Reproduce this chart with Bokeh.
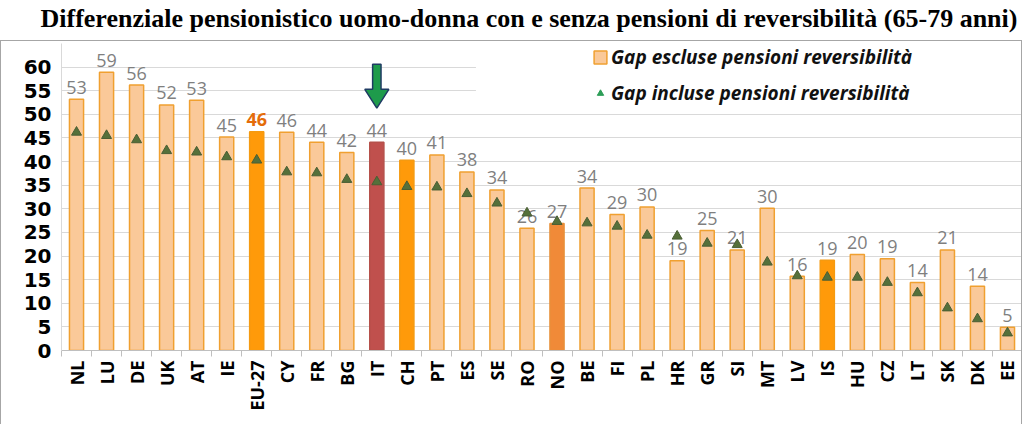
import math
from bokeh.plotting import figure
from bokeh.layouts import column
from bokeh.models import (Range1d, FixedTicker, ColumnDataSource, Legend, LegendItem,
                          BoxAnnotation)
from bokeh.core.properties import value, field
from bokeh.embed import file_html
from bokeh.resources import INLINE

# ---------------- data ----------------
countries = ["NL", "LU", "DE", "UK", "AT", "IE", "EU-27", "CY", "FR", "BG", "IT", "CH",
             "PT", "ES", "SE", "RO", "NO", "BE", "FI", "PL", "HR", "GR", "SI", "MT",
             "LV", "IS", "HU", "CZ", "LT", "SK", "DK", "EE"]
gap_excl = [53.2, 58.9, 56.2, 52.0, 53.0, 45.2, 46.3, 46.2, 44.1, 41.9, 44.1, 40.3,
            41.4, 37.8, 34.0, 25.9, 26.9, 34.4, 28.8, 30.4, 19.0, 25.4, 21.3, 30.1,
            15.7, 19.1, 20.3, 19.4, 14.4, 21.3, 13.6, 4.9]
gap_incl = [46.2, 45.5, 44.6, 42.3, 42.0, 41.0, 40.3, 37.8, 37.6, 36.2, 35.7, 34.7,
            34.6, 33.2, 31.2, 29.1, 27.3, 27.0, 26.3, 24.4, 24.2, 22.7, 22.4, 18.7,
            15.8, 15.5, 15.5, 14.4, 12.2, 9.0, 6.7, 3.7]
y_ticks = [0, 5, 10, 15, 20, 25, 30, 35, 40, 45, 50, 55, 60]

title_text = "Differenziale pensionistico uomo-donna con e senza pensioni di reversibilità (65-79 anni)"
label_excl = "Gap escluse pensioni reversibilità"
label_incl = "Gap incluse pensioni reversibilità"
highlight_country = "IT"

# ---------------- styles ----------------
LIGHT_FILL = "#FAC999"
LIGHT_LINE = "#F0A030"
special_fill = {"EU-27": "#FF9A0A", "IT": "#C0504D", "CH": "#FF9A0A", "NO": "#F08A38", "IS": "#FF9A0A"}
special_line = {"EU-27": "#F59A10", "IT": "#B5504A", "CH": "#F59A10", "NO": "#E8903A", "IS": "#F59A10"}

n = len(countries)
xs = [i + 0.5 for i in range(n)]
fills = [special_fill.get(c, LIGHT_FILL) for c in countries]
lines = [special_line.get(c, LIGHT_LINE) for c in countries]
labels = ["%d" % round(v) for v in gap_excl]
lab_colors = ["#E46C0A" if c == "EU-27" else "#7F7F7F" for c in countries]
lab_styles = ["bold" if c == "EU-27" else "normal" for c in countries]

src = ColumnDataSource(dict(x=xs, excl=gap_excl, incl=gap_incl, fill=fills, line=lines,
                            lab=labels, lab_color=lab_colors, lab_style=lab_styles))

# ---------------- title figure ----------------
t = figure(width=1024, height=40, output_backend="svg", toolbar_location=None,
           title=title_text, min_border_left=0, min_border_right=0,
           min_border_top=3, min_border_bottom=0)
t.title.text_font = "Liberation Serif"
t.title.text_font_size = "26px"
t.title.text_font_style = "bold"
t.title.text_color = "black"
t.title.align = "left"
t.title.offset = -20
t.title.standoff = 2
t.axis.visible = False
t.grid.visible = False
t.outline_line_color = None
t.border_fill_color = "white"
t.background_fill_color = "white"

# ---------------- main figure ----------------
p = figure(width=1022, height=384, x_range=Range1d(0, n), y_range=Range1d(0, 65.0),
           output_backend="svg", toolbar_location=None,
           min_border_left=60, min_border_right=1, min_border_top=2, min_border_bottom=75)
p.styles = {"border-top": "1px solid #A6A6A6", "border-left": "1px solid #A6A6A6",
            "border-right": "1px solid #A6A6A6"}
p.outline_line_color = None
p.background_fill_color = "white"
p.border_fill_color = "white"

# bars
p.vbar(x="x", top="excl", width=0.47, fill_color="fill", line_color="line",
       line_width=1.5, source=src)

# value labels
p.text(x="x", y="excl", text="lab", text_color="lab_color", text_font=value("Open Sans"),
       text_font_size="18px", text_font_style=field("lab_style"), text_align="center",
       text_baseline="alphabetic", y_offset=-12, source=src)

# triangles
p.scatter(x="x", y="incl", marker="triangle", size=10, fill_color="#55703A",
          line_color="#4A5E34", line_width=1, source=src)

# green arrow over the highlighted country
xi = countries.index(highlight_country) + 0.5
ay_top, ay_sh, ay_tip = 60.6, 55.3, 51.3
p.patch(x=[xi - 0.14, xi + 0.14, xi + 0.14, xi + 0.4, xi, xi - 0.4, xi - 0.14],
        y=[ay_top, ay_top, ay_sh, ay_sh, ay_tip, ay_sh, ay_sh],
        fill_color="#1E9B4B", line_color="#1F3B63", line_width=1.5)

# axes
p.xaxis.ticker = FixedTicker(ticks=xs, minor_ticks=list(range(n + 1)))
p.xaxis.major_label_overrides = {x: c for x, c in zip(xs, countries)}
p.xaxis.major_label_orientation = math.pi / 2
p.xaxis.major_tick_line_color = None
p.xaxis.major_tick_out = 0
p.xaxis.major_tick_in = 0
p.xaxis.minor_tick_out = 6
p.xaxis.minor_tick_in = 0
p.xaxis.minor_tick_line_color = "#BFBFBF"
p.xaxis.axis_line_color = "#BFBFBF"
p.xaxis.major_label_standoff = 4
p.xaxis.major_label_text_font = "Open Sans"
p.xaxis.major_label_text_font_size = "18px"
p.xaxis.major_label_text_font_style = "bold"
p.xaxis.major_label_text_color = "black"

p.yaxis.ticker = FixedTicker(ticks=y_ticks)
p.yaxis.major_tick_line_color = None
p.yaxis.minor_tick_line_color = None
p.yaxis.major_tick_out = 0
p.yaxis.axis_line_color = "#D9D9D9"
p.yaxis.major_label_standoff = 10
p.yaxis.major_label_text_font = "DejaVu Sans"
p.yaxis.major_label_text_font_size = "20px"
p.yaxis.major_label_text_font_style = "bold"
p.yaxis.major_label_text_color = "black"

p.xgrid.grid_line_color = None
p.ygrid.grid_line_color = "#D9D9D9"

# white legend area
p.add_layout(BoxAnnotation(left=13.8, right=n, bottom=52.1, fill_color="white",
                           fill_alpha=1, line_alpha=0))

# legend (proxy renderers without visible data)
nan = float("nan")
r_leg_bar = p.vbar(x=[nan], top=[nan], width=0.5, fill_color=LIGHT_FILL,
                   line_color=LIGHT_LINE, line_width=1.5)
r_leg_tri = p.scatter(x=[nan], y=[nan], marker="triangle", fill_color="#2E9E58",
                      line_color="#2E9E58")
legend = Legend(items=[LegendItem(label=label_excl, renderers=[r_leg_bar]),
                       LegendItem(label=label_incl, renderers=[r_leg_tri])],
                location=(531, 244), orientation="vertical",
                glyph_width=16, glyph_height=16, label_height=24, spacing=10,
                padding=0, margin=0, label_standoff=3,
                border_line_color=None, background_fill_alpha=0,
                label_text_font="Open Sans", label_text_font_size="19px",
                label_text_font_style="bold italic", label_text_color="#111111")
p.add_layout(legend)

layout = column(t, p, spacing=0)
open("out.html", "w").write(file_html(layout, INLINE))
